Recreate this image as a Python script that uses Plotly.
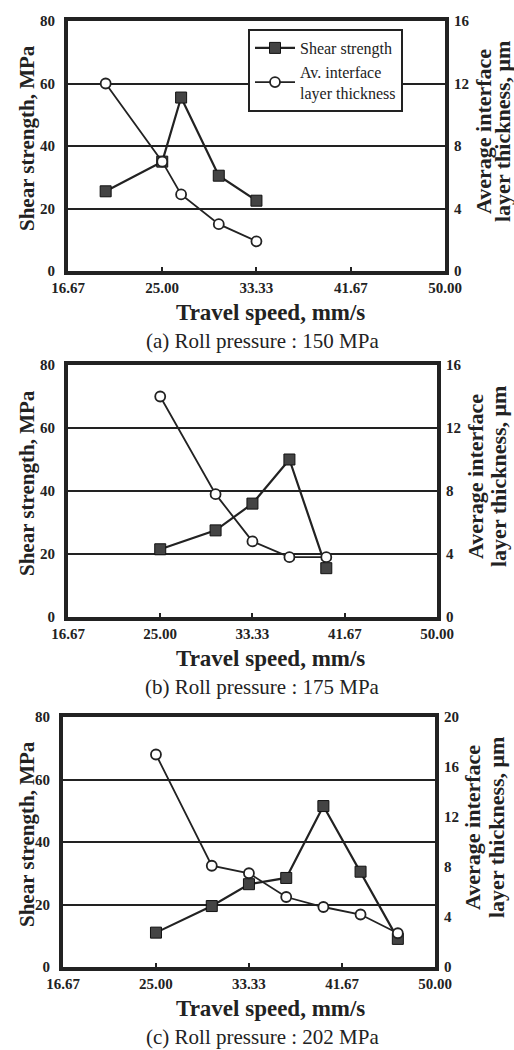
import plotly.graph_objects as go

# Travel speed (mm/s), shear strength (MPa) and average interface layer thickness (um)
speed_a = [20.0, 25.0, 26.67, 30.0, 33.33]
shear_a = [25.5, 35.0, 55.5, 30.5, 22.5]
thick_a = [12.0, 7.0, 4.9, 3.0, 1.9]

speed_b = [25.0, 30.0, 33.33, 36.67, 40.0]
shear_b = [21.5, 27.5, 36.0, 50.0, 15.5]
thick_b = [14.0, 7.8, 4.8, 3.8, 3.8]

speed_c = [25.0, 30.0, 33.33, 36.67, 40.0, 43.33, 46.67]
shear_c = [11.0, 19.5, 26.5, 28.5, 51.5, 30.5, 9.0]
thick_c = [17.0, 8.1, 7.5, 5.6, 4.8, 4.2, 2.7]

x_tickvals = [16.67, 25.0, 33.33, 41.67, 50.0]
x_ticktext = ["16.67", "25.00", "33.33", "41.67", "50.00"]
left_ticks = [0, 20, 40, 60, 80]
right_ticks_ab = [0, 4, 8, 12, 16]
right_ticks_c = [0, 4, 8, 12, 16, 20]
captions = ["(a) Roll pressure : 150 MPa",
            "(b) Roll pressure : 175 MPa",
            "(c) Roll pressure : 202 MPa"]

W, H = 514, 1050
SERIF = "Liberation Serif"

def px(x):
    return x / W

def py(y):
    return 1 - y / H

# panel boxes in pixels: left, right, top, bottom
boxes = [(68, 445, 21, 271), (68, 437, 365, 617), (63, 435, 717, 967)]
# x centres of the two lines of the right-hand axis title
right_title_x = [(484, 503), (475, 498), (472, 496)]
panels = [(speed_a, shear_a, thick_a, 16, right_ticks_ab),
          (speed_b, shear_b, thick_b, 16, right_ticks_ab),
          (speed_c, shear_c, thick_c, 20, right_ticks_c)]

fig = go.Figure()
layout = {}
annotations = []

def label(text, x, y, size, angle=0):
    annotations.append(dict(
        text=text, x=px(x), y=py(y), xref="paper", yref="paper",
        xanchor="center", yanchor="middle", textangle=angle,
        showarrow=False, font=dict(family=SERIF, size=size, color="#222")))

for i, ((l, r, t, b), (sx, sh, th, rmax, rticks)) in enumerate(zip(boxes, panels)):
    xn = "" if i == 0 else str(i + 1)
    yl = "" if i == 0 else str(2 * i + 1)
    yr = str(2 * i + 2)
    fig.add_trace(go.Scatter(
        x=sx, y=th, xaxis="x" + xn, yaxis="y" + yr,
        mode="lines+markers", name="Av. interface<br>layer thickness",
        showlegend=(i == 0),
        line=dict(color="#222", width=1.8),
        marker=dict(symbol="circle", size=10, color="white",
                    line=dict(color="#222", width=1.8))))
    fig.add_trace(go.Scatter(
        x=sx, y=sh, xaxis="x" + xn, yaxis="y" + yl,
        mode="lines+markers", name="Shear strength",
        showlegend=(i == 0), legendrank=1,
        line=dict(color="#222", width=2.2),
        marker=dict(symbol="square", size=11, color="#444",
                    line=dict(color="#111", width=1))))

    tickfont = dict(family=SERIF, size=15, color="#222", weight="bold")
    layout["xaxis" + xn] = dict(
        domain=[px(l), px(r)], range=[16.67, 50.0], anchor="y" + yl,
        tickvals=x_tickvals, ticktext=x_ticktext, tickfont=tickfont,
        ticks="inside", ticklen=4, tickwidth=2, tickcolor="#222",
        showline=True, linecolor="#222", linewidth=4, mirror=True,
        showgrid=False, zeroline=False, automargin=False)
    layout["yaxis" + yl] = dict(
        domain=[py(b), py(t)], range=[0, 80], anchor="x" + xn,
        tickvals=left_ticks, tickfont=tickfont, ticks="",
        ticklabelstandoff=6,
        showline=True, linecolor="#222", linewidth=4, mirror=True,
        showgrid=True, gridcolor="#222", gridwidth=2, zeroline=False,
        automargin=False)
    layout["yaxis" + yr] = dict(
        range=[0, rmax], overlaying="y" + yl, side="right", anchor="x" + xn,
        tickvals=rticks, tickfont=tickfont, ticks="outside", ticklen=3,
        tickwidth=1.5, tickcolor="#222", ticklabelstandoff=2,
        showline=False, showgrid=False, zeroline=False, automargin=False)

    # axis titles and panel caption
    label("<b>Shear strength, MPa</b>", 27, (t + b) / 2 - 8, 21, -90)
    x1, x2 = right_title_x[i]
    label("<b>Average interface</b>", x1, (t + b) / 2 - 14, 22, -90)
    label("<b>layer thickness, \u03bcm</b>", x2, (t + b) / 2 - 14, 22, -90)
    label("<b>Travel speed, mm/s</b>", 270, b + 41, 23)
    label(captions[i], 262, b + 70, 21)

fig.update_layout(
    width=W, height=H, margin=dict(l=0, r=0, t=0, b=0),
    paper_bgcolor="white", plot_bgcolor="white",
    showlegend=True,
    legend=dict(x=px(248), y=py(29), xanchor="left", yanchor="top",
                bgcolor="white", bordercolor="#222", borderwidth=2,
                font=dict(family=SERIF, size=16, color="#222"),
                itemwidth=40, tracegroupgap=0, traceorder="normal"),
    annotations=annotations,
    **layout)

fig.write_html("out.html")
